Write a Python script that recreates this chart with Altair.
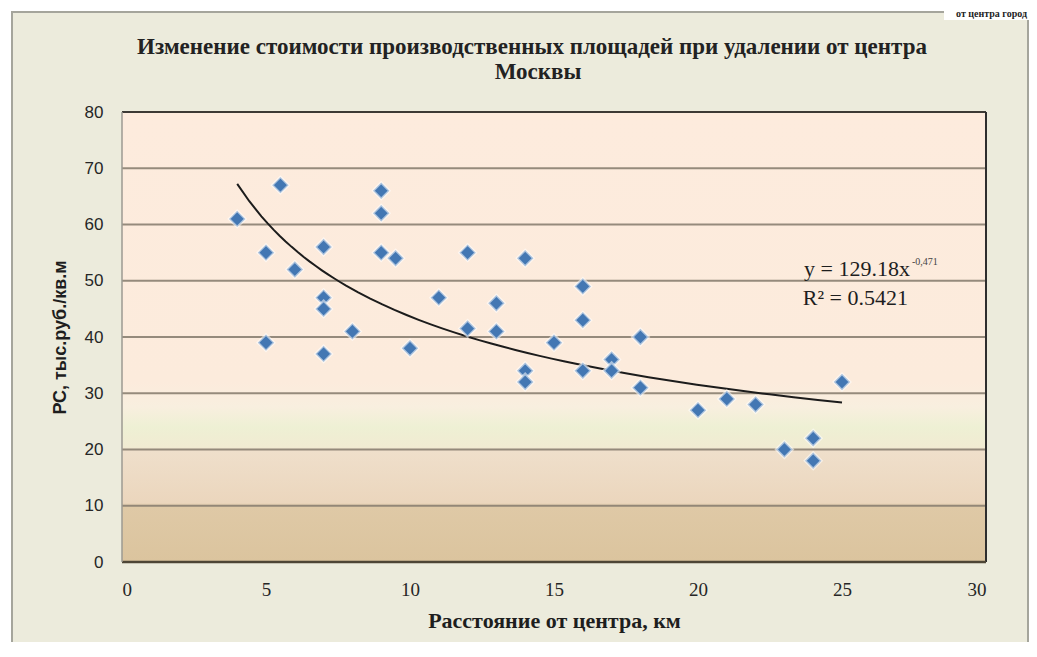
import altair as alt
import pandas as pd

# ---- data ----
dist_km = [4, 5.5, 5, 5, 6, 7, 7, 7, 7, 8, 9, 9, 9, 9.5, 10, 11, 12, 12, 13, 13,
           14, 14, 14, 15, 16, 16, 16, 17, 17, 18, 18, 20, 21, 22, 23, 24, 24, 25]
price = [61, 67, 55, 39, 52, 56, 47, 45, 37, 41, 66, 62, 55, 54, 38, 47, 55, 41.5, 46, 41,
         54, 34, 32, 39, 49, 43, 34, 36, 34, 40, 31, 27, 29, 28, 20, 22, 18, 32]
x_ticks = [0, 5, 10, 15, 20, 25, 30]
y_ticks = [0, 10, 20, 30, 40, 50, 60, 70, 80]
grid_levels = [10, 20, 30, 40, 50, 60, 70]
title_line1 = "Изменение стоимости производственных площадей  при удалении от центра"
title_line2 = "Москвы"
x_title = "Расстояние от центра, км"
y_title = "РС, тыс.руб./кв.м"
eq_main = "y = 129.18x"
eq_exp = "-0,471"
eq_r2 = "R² = 0.5421"
corner_text = "от центра город"

df = pd.DataFrame({"x": dist_km, "y": price})
grid_df = pd.DataFrame({"y": grid_levels})
one = alt.Data(values=[{"a": 1}])

W, H = 864, 450
SERIF = "Liberation Serif"
SANS = "Liberation Sans"

xs = alt.Scale(domain=[0, 30], nice=False)
ys = alt.Scale(domain=[0, 80], nice=False)

frame = alt.Chart(one).mark_rect(fill="#ecebdc", stroke="#a5a59c", strokeWidth=2).encode(
    x=alt.value(-110), x2=alt.value(906), y=alt.value(-100), y2=alt.value(H + 140)
)
corner_bg = alt.Chart(one).mark_rect(fill="#ffffff").encode(
    x=alt.value(822), x2=alt.value(910), y=alt.value(-106), y2=alt.value(-92)
)

grad = alt.Gradient(
    gradient="linear", x1=0, x2=0, y1=0, y2=1,
    stops=[
        alt.GradientStop(color="#fdebdd", offset=0),
        alt.GradientStop(color="#fcebdc", offset=0.60),
        alt.GradientStop(color="#f8efdf", offset=0.655),
        alt.GradientStop(color="#eef0d4", offset=0.70),
        alt.GradientStop(color="#f1ebd2", offset=0.745),
        alt.GradientStop(color="#efdfcb", offset=0.752),
        alt.GradientStop(color="#ebd6bd", offset=0.868),
        alt.GradientStop(color="#dfc9a6", offset=0.878),
        alt.GradientStop(color="#dbc49e", offset=1),
    ],
)
bg = alt.Chart(one).mark_rect(fill=grad).encode(
    x=alt.value(0), x2=alt.value(W), y=alt.value(0), y2=alt.value(H)
)

grid = alt.Chart(grid_df).mark_rule(color="#8a7f71", strokeWidth=2, opacity=0.9).encode(
    y=alt.Y("y:Q", scale=ys)
)

top_border = alt.Chart(one).mark_rule(color="#3d3a35", strokeWidth=2).encode(
    x=alt.value(0), x2=alt.value(W), y=alt.value(0)
)
right_border = alt.Chart(one).mark_rule(color="#2e2e2e", strokeWidth=2).encode(
    x=alt.value(W), y=alt.value(0), y2=alt.value(H)
)
bottom_border = alt.Chart(one).mark_rule(color="#4d4535", strokeWidth=2.5).encode(
    x=alt.value(0), x2=alt.value(W), y=alt.value(H)
)
left_border = alt.Chart(one).mark_rule(color="#9c9a92", strokeWidth=1.5).encode(
    x=alt.value(0), y=alt.value(0), y2=alt.value(H)
)

trend = alt.Chart(df).transform_regression(
    "x", "y", method="pow", extent=[4, 25]
).mark_line(color="#1c1c1c", strokeWidth=2).encode(
    x=alt.X("x:Q", scale=xs), y=alt.Y("y:Q", scale=ys)
)

points = alt.Chart(df).mark_point(
    shape="diamond", filled=True, size=270, color="#4377b3", opacity=1,
    stroke="#ffffff", strokeWidth=2.5, strokeOpacity=0.55,
).encode(
    x=alt.X("x:Q", scale=xs, title=x_title,
            axis=alt.Axis(values=x_ticks, grid=False, domain=False, ticks=False, tickSize=0,
                          labelFont=SERIF, labelFontSize=19, labelPadding=18,
                          titleFont=SERIF, titleFontSize=22, titlePadding=11, zindex=2)),
    y=alt.Y("y:Q", scale=ys, title=y_title,
            axis=alt.Axis(values=y_ticks, grid=False, domain=False, ticks=False, tickSize=0,
                          labelFont=SANS, labelFontSize=17, labelPadding=19,
                          titleFont=SANS, titleFontSize=18, titlePadding=15, zindex=2)),
)

eq1 = alt.Chart(one).mark_text(text=eq_main, font=SERIF, fontSize=22, color="#1e1e1e",
                               align="right", baseline="middle").encode(
    x=alt.value(788), y=alt.value(157))
eq1e = alt.Chart(one).mark_text(text=eq_exp, font=SERIF, fontSize=10, color="#444",
                                align="left", baseline="middle").encode(
    x=alt.value(790), y=alt.value(150))
eq2 = alt.Chart(one).mark_text(text=eq_r2, font=SERIF, fontSize=22, color="#1e1e1e",
                               align="right", baseline="middle").encode(
    x=alt.value(786), y=alt.value(186))
corner = alt.Chart(one).mark_text(text=corner_text, font=SERIF, fontSize=10, fontWeight="bold",
                                  color="#222", align="right", baseline="bottom").encode(
    x=alt.value(905), y=alt.value(-93))

t1 = alt.Chart(one).mark_text(text=title_line1, font=SERIF, fontSize=23, fontWeight="bold",
                              color="#222", align="center", baseline="middle").encode(
    x=alt.value(410), y=alt.value(-65))
t2 = alt.Chart(one).mark_text(text=title_line2, font=SERIF, fontSize=23, fontWeight="bold",
                              color="#222", align="center", baseline="middle").encode(
    x=alt.value(416), y=alt.value(-40))

chart = alt.layer(
    frame, corner_bg, bg, grid, top_border, right_border, bottom_border, left_border,
    trend, points, eq1, eq1e, eq2, corner, t1, t2,
).properties(
    width=W, height=H,
    autosize=alt.AutoSizeParams(type="none"),
    padding={"left": 114, "top": 104, "right": 43, "bottom": 80},
).configure(
    background="white"
).configure_view(
    stroke=None
).configure_axis(
    labelColor="#262626", titleFontWeight="bold", titleColor="#1e1e1e",
)

chart.save("out.html", embed_options={"renderer": "svg", "actions": False})
